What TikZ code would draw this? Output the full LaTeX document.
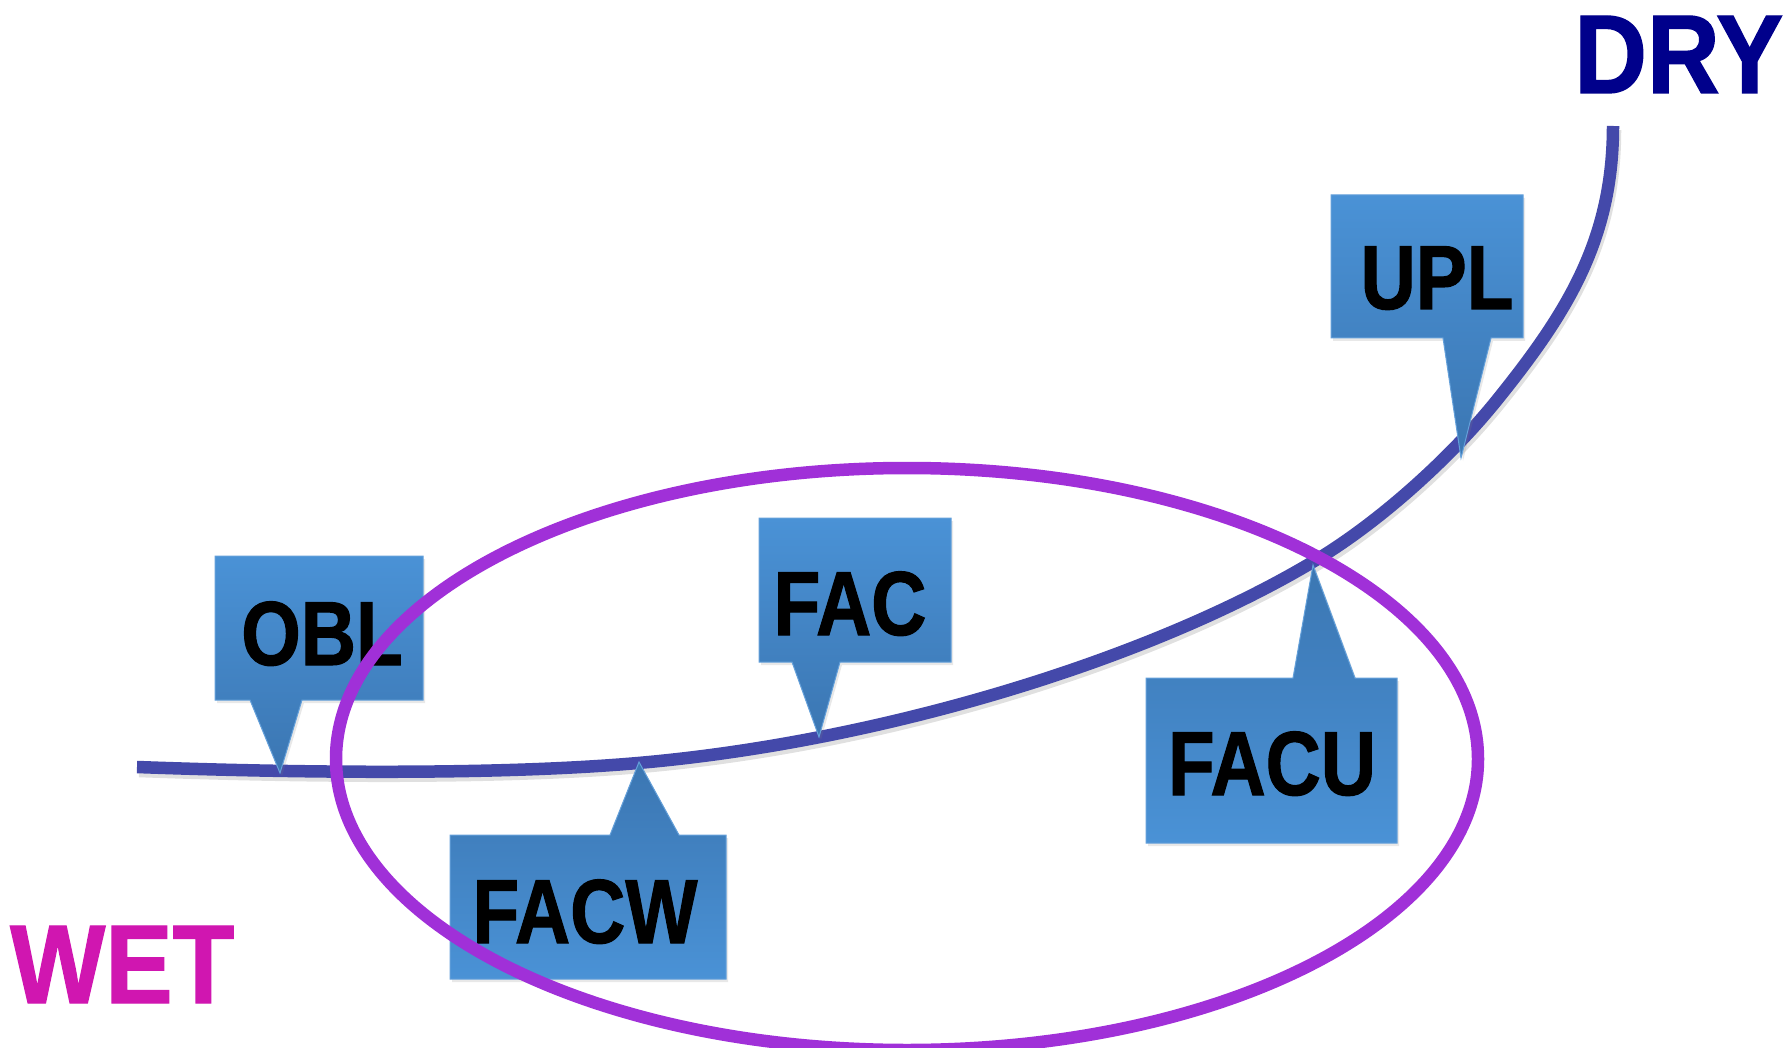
\documentclass[tikz,border=0pt]{standalone}
\usepackage{fontspec}
\newfontfamily\labelfont[FakeStretch=0.84,BoldFeatures={FakeBold=1.2}]{Liberation Sans}
\newfontfamily\endfont[FakeStretch=0.9,BoldFeatures={FakeBold=1.2}]{Liberation Sans}
\usetikzlibrary{shadows}

\definecolor{curveblue}{RGB}{68,73,170}
\definecolor{ringpurple}{RGB}{160,48,216}
\definecolor{drynavy}{RGB}{0,0,139}
\definecolor{wetpink}{RGB}{208,22,176}
\definecolor{boxlight}{RGB}{74,146,214}
\definecolor{boxdark}{RGB}{59,118,178}
\definecolor{boxedge}{RGB}{100,160,218}

\begin{document}
\begin{tikzpicture}[x=1pt,y=-1pt,
    callout down/.style={top color=boxlight,bottom color=boxdark,draw=boxedge,line width=1pt,
        drop shadow={opacity=0.18,shadow xshift=2pt,shadow yshift=-3pt}},
    callout up/.style={top color=boxdark,bottom color=boxlight,draw=boxedge,line width=1pt,
        drop shadow={opacity=0.18,shadow xshift=2pt,shadow yshift=-3pt}},
    lbl/.style={inner sep=0pt,anchor=base,font=\labelfont\bfseries\fontsize{91}{100}\selectfont},
    endlbl/.style={inner sep=0pt,anchor=base west,font=\endfont\bfseries\fontsize{112}{120}\selectfont}]
    \useasboundingbox (0,0) rectangle (1786,1048);

    % moisture gradient
    \draw[black,opacity=0.12,line width=12.5pt,shift={(2pt,-4pt)}] (137,767) .. controls (300,773) and (500,775) .. (638,763)
        .. controls (880,742) and (1150,660) .. (1316,560) .. controls (1376,524) and (1447,462) .. (1497,400)
        .. controls (1567,313) and (1613,240) .. (1613,126);
    \draw[curveblue,line width=12.5pt] (137,767) .. controls (300,773) and (500,775) .. (638,763)
        .. controls (880,742) and (1150,660) .. (1316,560) .. controls (1376,524) and (1447,462) .. (1497,400)
        .. controls (1567,313) and (1613,240) .. (1613,126);

    % callouts
    \coordinate (obl tip) at (280,773);
    \coordinate (fac tip) at (819,737);
    \coordinate (upl tip) at (1461,458);
    \coordinate (facw tip) at (639,762);
    \coordinate (facu tip) at (1313,565);

    \path[callout down] (215,556) -- (423,556) -- (423,700) -- (302,700) -- (obl tip) -- (250,700) -- (215,700) -- cycle;
    \path[callout down] (759,518) -- (951,518) -- (951,662) -- (840,662) -- (fac tip) -- (792,662) -- (759,662) -- cycle;
    \path[callout down] (1331,195) -- (1523,195) -- (1523,338) -- (1491,338) -- (upl tip) -- (1443,338) -- (1331,338) -- cycle;
    \path[callout up] (450,835) -- (610,835) -- (facw tip) -- (679,835) -- (726,835) -- (726,979) -- (450,979) -- cycle;
    \path[callout up] (1146,678) -- (1293,678) -- (facu tip) -- (1355,678) -- (1397,678) -- (1397,843) -- (1146,843) -- cycle;

    \node[lbl] (obl) at (322,665) {OBL};
    \node[lbl] (fac) at (850,635) {FAC};
    \node[lbl] (upl) at (1437,309) {UPL};
    \node[lbl] (facw) at (585,943) {FACW};
    \node[lbl] (facu) at (1272,795) {FACU};

    % wetland ring
    \draw[ringpurple,line width=12.5pt] (907,759) ellipse [x radius=571,y radius=291];

    \node[endlbl,text=drynavy] (dry) at (1574,93) {DRY};
    \node[endlbl,text=wetpink] (wet) at (10,1003) {WET};
\end{tikzpicture}
\end{document}
